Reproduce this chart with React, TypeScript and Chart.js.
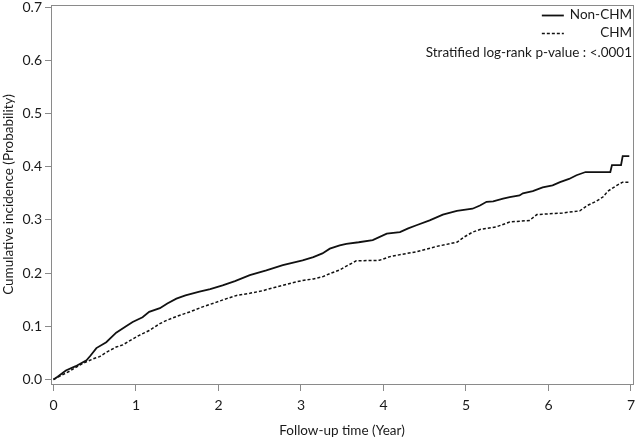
import React, { useEffect, useRef } from "react";
import { Chart, registerables } from "chart.js";

Chart.register(...registerables);

const NON_CHM_T = [0, 0.05, 0.15, 0.27, 0.4, 0.45, 0.52, 0.64, 0.76, 0.88, 0.96, 1.08, 1.16, 1.29, 1.38, 1.49, 1.6, 1.77, 1.9, 2.05, 2.2, 2.38, 2.58, 2.78, 3.02, 3.15, 3.26, 3.35, 3.47, 3.55, 3.7, 3.87, 4.04, 4.2, 4.3, 4.4, 4.56, 4.72, 4.89, 5.08, 5.17, 5.25, 5.33, 5.45, 5.53, 5.65, 5.69, 5.81, 5.93, 6.05, 6.14, 6.25, 6.34, 6.45, 6.75, 6.77, 6.88, 6.9, 6.98];
const NON_CHM_V = [0, 0.005, 0.017, 0.025, 0.036, 0.045, 0.059, 0.07, 0.088, 0.1, 0.108, 0.117, 0.127, 0.134, 0.143, 0.152, 0.158, 0.165, 0.17, 0.177, 0.185, 0.196, 0.205, 0.215, 0.224, 0.23, 0.237, 0.246, 0.252, 0.255, 0.258, 0.262, 0.274, 0.277, 0.284, 0.29, 0.299, 0.31, 0.317, 0.321, 0.327, 0.334, 0.335, 0.34, 0.343, 0.346, 0.35, 0.354, 0.361, 0.365, 0.371, 0.377, 0.384, 0.39, 0.39, 0.403, 0.403, 0.42, 0.42];

const CHM_T = [0, 0.1, 0.2, 0.35, 0.5, 0.56, 0.64, 0.76, 0.84, 0.95, 1.04, 1.16, 1.29, 1.37, 1.5, 1.65, 1.8, 1.97, 2.1, 2.22, 2.38, 2.54, 2.65, 2.78, 2.9, 3.02, 3.15, 3.26, 3.35, 3.47, 3.55, 3.67, 3.95, 4.08, 4.25, 4.4, 4.52, 4.64, 4.89, 4.98, 5.08, 5.17, 5.37, 5.53, 5.77, 5.86, 6.17, 6.38, 6.47, 6.58, 6.66, 6.72, 6.83, 6.9, 6.97];
const CHM_V = [0, 0.008, 0.016, 0.03, 0.04, 0.043, 0.051, 0.061, 0.065, 0.075, 0.083, 0.092, 0.105, 0.111, 0.119, 0.127, 0.136, 0.145, 0.152, 0.158, 0.162, 0.167, 0.172, 0.177, 0.182, 0.186, 0.189, 0.193, 0.199, 0.206, 0.213, 0.223, 0.224, 0.231, 0.236, 0.24, 0.245, 0.25, 0.258, 0.268, 0.277, 0.282, 0.287, 0.296, 0.299, 0.31, 0.313, 0.317, 0.327, 0.335, 0.343, 0.354, 0.365, 0.371, 0.371];

const X_TICKS = [0, 1, 2, 3, 4, 5, 6, 7];
const Y_TICKS = [0, 0.1, 0.2, 0.3, 0.4, 0.5, 0.6, 0.7];
const SERIES_NAMES = ["Non-CHM", "CHM"];
const P_TEXT = "Stratified log-rank p-value : <.0001";
const X_TITLE = "Follow-up time (Year)";
const Y_TITLE = "Cumulative incidence (Probability)";

const FONT = "Lato";
const AXIS_GRAY = "#8a8a8a";
const TEXT = "#1a1a1a";

const framePlugin = {
  id: "frameAndLegend",
  afterDraw(chart: any) {
    const { ctx, chartArea } = chart;
    const { left, top, right, bottom } = chartArea;
    ctx.save();
    ctx.strokeStyle = AXIS_GRAY;
    ctx.lineWidth = 1;
    ctx.strokeRect(Math.round(left) + 0.5, Math.round(top) + 0.5, Math.round(right - left), Math.round(bottom - top));
    ctx.font = `13.5px ${FONT}`;
    ctx.fillStyle = TEXT;
    ctx.textAlign = "right";
    ctx.textBaseline = "middle";
    const textRight = right - 1;
    const maxW = Math.max(...SERIES_NAMES.map((n) => ctx.measureText(n).width));
    const sampleEnd = textRight - maxW - 6;
    const sampleStart = sampleEnd - 22;
    const rows = [10, 28];
    chart.data.datasets.forEach((ds: any, i: number) => {
      const y = top + rows[i];
      ctx.fillText(ds.label, textRight, y);
      ctx.beginPath();
      ctx.setLineDash(ds.borderDash || []);
      ctx.lineWidth = ds.borderWidth;
      ctx.strokeStyle = ds.borderColor;
      ctx.moveTo(sampleStart, Math.round(y) + 0.5);
      ctx.lineTo(sampleEnd, Math.round(y) + 0.5);
      ctx.stroke();
    });
    ctx.setLineDash([]);
    ctx.fillText(P_TEXT, textRight, top + 48);
    ctx.restore();
  },
};

export default function App() {
  const ref = useRef<HTMLCanvasElement>(null);
  useEffect(() => {
    if (!ref.current) return;
    const chart = new Chart(ref.current, {
      type: "line",
      data: {
        datasets: [
          {
            label: SERIES_NAMES[0],
            data: NON_CHM_T.map((t, i) => ({ x: t, y: NON_CHM_V[i] })),
            borderColor: "#111111",
            borderWidth: 1.8,
            tension: 0,
            pointRadius: 0,
            fill: false,
          },
          {
            label: SERIES_NAMES[1],
            data: CHM_T.map((t, i) => ({ x: t, y: CHM_V[i] })),
            borderColor: "#111111",
            borderWidth: 1.5,
            borderDash: [3, 2],
            tension: 0,
            pointRadius: 0,
            fill: false,
          },
        ],
      },
      options: {
        animation: false,
        responsive: true,
        maintainAspectRatio: false,
        layout: { padding: { top: 5, right: 4, left: 0, bottom: 0 } },
        plugins: { legend: { display: false }, tooltip: { enabled: false } },
        scales: {
          x: {
            type: "linear",
            min: -0.03,
            max: 7.025,
            afterBuildTicks: (s: any) => {
              s.ticks = X_TICKS.map((v) => ({ value: v }));
            },
            afterFit: (s: any) => {
              s.height = 58;
              s.paddingLeft = 0;
              s.paddingRight = 0;
            },
            ticks: {
              color: TEXT,
              font: { family: FONT, size: 14 },
              padding: 6,
              maxRotation: 0,
              callback: (v: any) => String(v),
            },
            grid: { drawOnChartArea: false, drawTicks: true, tickLength: 7, color: AXIS_GRAY },
            border: { display: true, color: AXIS_GRAY },
            title: {
              display: true,
              text: X_TITLE,
              color: TEXT,
              font: { family: FONT, size: 13.5 },
              padding: { top: 2, bottom: 3 },
            },
          },
          y: {
            type: "linear",
            min: -0.0085,
            max: 0.704,
            afterBuildTicks: (s: any) => {
              s.ticks = Y_TICKS.map((v) => ({ value: v }));
            },
            afterFit: (s: any) => {
              s.width = 51;
              s.paddingTop = 0;
              s.paddingBottom = 0;
            },
            ticks: {
              color: TEXT,
              font: { family: FONT, size: 14 },
              padding: 3,
              callback: (v: any) => Number(v).toFixed(1),
            },
            grid: { drawOnChartArea: false, drawTicks: true, tickLength: 6, color: AXIS_GRAY },
            border: { display: true, color: AXIS_GRAY },
            title: {
              display: true,
              text: Y_TITLE,
              color: TEXT,
              font: { family: FONT, size: 13.5 },
              padding: { top: 1, bottom: 2 },
            },
          },
        },
      },
      plugins: [framePlugin],
    });
    return () => chart.destroy();
  }, []);
  return (
    <div style={{ position: "fixed", left: 0, top: 0, width: 637, height: 442, background: "#ffffff" }}>
      <canvas ref={ref} />
    </div>
  );
}
